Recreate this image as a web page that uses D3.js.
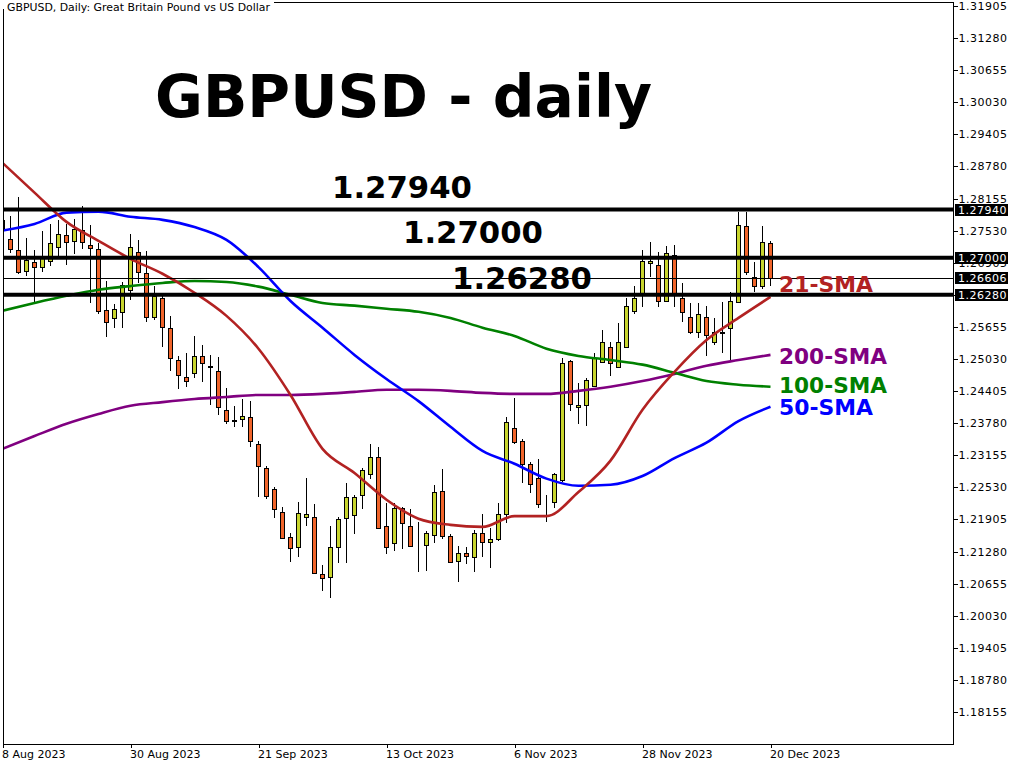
<!DOCTYPE html>
<html>
<head>
<meta charset="utf-8">
<script src="https://cdn.jsdelivr.net/npm/d3@7"></script>
<style>
  html, body { margin: 0; padding: 0; background: #ffffff; }
  svg { display: block; }
</style>
</head>
<body>
<svg id="chart" width="1024" height="768"></svg>
<script>
// ---------------- DATA ----------------
const tickLabelsX = ["8 Aug 2023", "30 Aug 2023", "21 Sep 2023", "13 Oct 2023", "6 Nov 2023", "28 Nov 2023", "20 Dec 2023"];
const tickBarsX = [0, 16, 32, 48, 64, 80, 96];

const tickLabelsY = ["1.31905","1.31280","1.30655","1.30030","1.29405","1.28780","1.28155","1.27530",
  "1.26905","1.26280","1.25655","1.25030","1.24405","1.23780","1.23155","1.22530","1.21905",
  "1.21280","1.20655","1.20030","1.19405","1.18780","1.18155"];

const open = [1.2774,1.2737,1.2716,1.2675,1.2692,1.2683,1.2694,1.2721,1.2745,1.2733,
  1.2755,1.2725,1.2718,1.2599,1.2583,1.2595,1.2638,1.2712,1.2671,1.2585,
  1.2622,1.2564,1.2501,1.2468,1.2476,1.2509,1.2489,1.2480,1.2404,1.2384,
  1.2386,1.2390,1.2338,1.2291,1.2250,1.2205,1.2157,1.2137,1.2196,1.2196,
  1.2084,1.2079,1.2137,1.2194,1.2199,1.2238,1.2279,1.2312,1.2178,1.2145,
  1.2213,1.2178,1.2141,1.2141,1.2160,1.2246,1.2158,1.2110,1.2125,1.2118,
  1.2164,1.2147,1.2153,1.2201,1.2369,1.2344,1.2299,1.2272,1.2223,1.2225,
  1.2268,1.2499,1.2410,1.2414,1.2451,1.2497,1.2527,1.2488,1.2527,1.2597,
  1.2632,1.2690,1.2686,1.2616,1.2706,1.2622,1.2585,1.2556,1.2585,1.2536,
  1.2554,1.2564,1.2614,1.2762,1.2663,1.2646,1.2729];
const high = [1.2784,1.2782,1.2819,1.2739,1.2716,1.2753,1.2766,1.2774,1.2766,1.2776,
  1.2801,1.2764,1.2729,1.2655,1.2610,1.2653,1.2747,1.2735,1.2714,1.2646,
  1.2626,1.2587,1.2509,1.2515,1.2548,1.2531,1.2511,1.2507,1.2447,1.2412,
  1.2425,1.2421,1.2344,1.2295,1.2254,1.2215,1.2164,1.2225,1.2271,1.2221,
  1.2102,1.2178,1.2196,1.2262,1.2238,1.2291,1.2338,1.2332,1.2223,1.2223,
  1.2215,1.2211,1.2186,1.2168,1.2258,1.2289,1.2162,1.2139,1.2137,1.2170,
  1.2201,1.2174,1.2223,1.2390,1.2427,1.2347,1.2303,1.2309,1.2238,1.2281,
  1.2505,1.2501,1.2457,1.2466,1.2515,1.2560,1.2536,1.2573,1.2622,1.2646,
  1.2716,1.2731,1.2712,1.2723,1.2725,1.2651,1.2612,1.2612,1.2606,1.2583,
  1.2614,1.2634,1.2790,1.2790,1.2692,1.2762,1.2733];
const low = [1.2745,1.2710,1.2669,1.2665,1.2614,1.2673,1.2684,1.2704,1.2686,1.2708,
  1.2718,1.2612,1.2591,1.2546,1.2564,1.2564,1.2618,1.2651,1.2575,1.2579,
  1.2527,1.2480,1.2445,1.2449,1.2466,1.2459,1.2414,1.2394,1.2377,1.2371,
  1.2371,1.2332,1.2234,1.2231,1.2194,1.2153,1.2108,1.2118,1.2178,1.2084,
  1.2051,1.2038,1.2106,1.2106,1.2162,1.2211,1.2270,1.2172,1.2123,1.2129,
  1.2133,1.2137,1.2088,1.2090,1.2145,1.2153,1.2106,1.2069,1.2104,1.2088,
  1.2118,1.2096,1.2149,1.2184,1.2338,1.2262,1.2242,1.2213,1.2186,1.2213,
  1.2264,1.2402,1.2377,1.2373,1.2449,1.2496,1.2470,1.2487,1.2525,1.2591,
  1.2605,1.2663,1.2605,1.2614,1.2605,1.2575,1.2552,1.2544,1.2509,1.2531,
  1.2515,1.2501,1.2612,1.2667,1.2634,1.2640,1.2646];
const close = [1.2755,1.2718,1.2673,1.2696,1.2683,1.2702,1.2729,1.2747,1.2731,1.2757,
  1.2731,1.2720,1.2597,1.2575,1.2601,1.2647,1.2721,1.2673,1.2585,1.2626,
  1.2566,1.2505,1.2472,1.2460,1.2509,1.2496,1.2488,1.2410,1.2382,1.2383,
  1.2392,1.2344,1.2295,1.2236,1.2211,1.2155,1.2135,1.2203,1.2201,1.2086,
  1.2077,1.2137,1.2192,1.2234,1.2234,1.2287,1.2312,1.2174,1.2137,1.2213,
  1.2184,1.2139,1.2140,1.2164,1.2244,1.2158,1.2108,1.2125,1.2119,1.2164,
  1.2147,1.2153,1.2201,1.2381,1.2342,1.2299,1.2260,1.2221,1.2222,1.2279,
  1.2496,1.2416,1.2414,1.2462,1.2505,1.2536,1.2496,1.2536,1.2606,1.2622,
  1.2694,1.2694,1.2616,1.2710,1.2632,1.2595,1.2556,1.2591,1.2550,1.2556,
  1.2556,1.2616,1.2764,1.2673,1.2645,1.2731,1.26606];

// moving averages, read every 4th bar
const smaBars = [0,4,8,12,16,20,24,28,32,36,40,44,48,52,56,60,64,68,72,76,80,84,88,92,96];
const sma21 = [1.2885,1.2827,1.2770,1.2733,1.2698,1.2669,1.2632,1.2587,1.2523,1.2433,1.2328,1.2281,1.2229,
  1.2192,1.2180,1.2176,1.2197,1.2197,1.2244,1.2305,1.2404,1.2478,1.2540,1.2583,1.2624];
const sma50 = [1.2753,1.2766,1.2788,1.2790,1.2780,1.2774,1.2760,1.2735,1.2682,1.2616,1.2564,1.2511,1.2464,
  1.2421,1.2371,1.2324,1.2299,1.2270,1.2256,1.2258,1.2275,1.2310,1.2340,1.2382,1.2410];
const sma100 = [1.2597,1.2612,1.2626,1.2638,1.2645,1.2651,1.2655,1.2653,1.2644,1.2628,1.2612,1.2607,1.2601,
  1.2595,1.2583,1.2564,1.2548,1.2523,1.2509,1.2501,1.2492,1.2476,1.2460,1.2453,1.2449];
const sma200 = [1.2328,1.2353,1.2377,1.2396,1.2412,1.2419,1.2425,1.2429,1.2433,1.2433,1.2435,1.2439,1.2443,
  1.2443,1.2441,1.2437,1.2435,1.2435,1.2441,1.2449,1.2460,1.2474,1.2490,1.2501,1.2511];

const levelLines = [1.27940, 1.27000, 1.26280];
const levelText = ["1.27940", "1.27000", "1.26280"];
const bidPrice = 1.26606;
const priceTags = [1.27940, 1.27000, 1.26606, 1.26280];

const smaNames = ["21-SMA", "200-SMA", "100-SMA", "50-SMA"];

// ---------------- LAYOUT ----------------
const W = 1024, H = 768;
const L = 3, T = 2, R = 953, B = 744;
const colBull = "#c8d52e", colBear = "#f0642a";
const colors = { s21: "#b22222", s50: "#0000ff", s100: "#008000", s200: "#800080" };

const svg = d3.select("#chart");
svg.append("rect").attr("width", W).attr("height", H).attr("fill", "#fff");

const x = d3.scaleLinear().domain([0, 96]).range([2.5, 770.5]);
const y = d3.scaleLinear().domain([1.18155, 1.31905]).range([712, 6]);

svg.append("defs").append("clipPath").attr("id", "plot")
  .append("rect").attr("x", L + 0.5).attr("y", T).attr("width", R - L).attr("height", B - T);

const plot = svg.append("g").attr("clip-path", "url(#plot)");

// candles
const idx = d3.range(open.length);
const cg = plot.append("g").attr("shape-rendering", "crispEdges");
cg.selectAll("line.wick").data(idx).join("line")
  .attr("x1", i => x(i)).attr("x2", i => x(i))
  .attr("y1", i => y(high[i])).attr("y2", i => y(low[i]))
  .attr("stroke", "#000").attr("stroke-width", 1);
cg.selectAll("rect.body").data(idx).join("rect")
  .attr("x", i => x(i) - 2)
  .attr("width", 4)
  .attr("y", i => Math.round(y(Math.max(open[i], close[i]))) + 0.5)
  .attr("height", i => Math.max(0, Math.round(y(Math.min(open[i], close[i]))) - Math.round(y(Math.max(open[i], close[i])))))
  .attr("fill", i => close[i] >= open[i] ? colBull : colBear)
  .attr("stroke", "#000").attr("stroke-width", 1);

// moving averages
const lineGen = vals => d3.line().x((d, j) => x(smaBars[j])).y(d => y(d)).curve(d3.curveMonotoneX)(vals);
[[sma200, colors.s200], [sma100, colors.s100], [sma50, colors.s50], [sma21, colors.s21]].forEach(([vals, c]) => {
  plot.append("path").attr("d", lineGen(vals)).attr("fill", "none")
    .attr("stroke", c).attr("stroke-width", 2.6).attr("stroke-linejoin", "round");
});

// horizontal level lines
plot.selectAll("line.level").data(levelLines).join("line")
  .attr("x1", L).attr("x2", R)
  .attr("y1", d => y(d)).attr("y2", d => y(d))
  .attr("stroke", "#000").attr("stroke-width", 4);
plot.append("line").attr("x1", L).attr("x2", R)
  .attr("y1", Math.round(y(bidPrice)) + 0.5).attr("y2", Math.round(y(bidPrice)) + 0.5)
  .attr("stroke", "#000").attr("stroke-width", 1).attr("shape-rendering", "crispEdges");

// frame
svg.append("rect").attr("x", L + 0.5).attr("y", T + 0.5).attr("width", R - L).attr("height", B - T)
  .attr("fill", "none").attr("stroke", "#000").attr("stroke-width", 1).attr("shape-rendering", "crispEdges");

// header text
svg.append("rect").attr("x", 0).attr("y", 0).attr("width", 274).attr("height", 9).attr("fill", "#fff");
svg.append("text").attr("x", 7).attr("y", 11)
  .attr("font-family", "DejaVu Sans, sans-serif").attr("font-size", 10.5)
  .attr("textLength", 263).attr("lengthAdjust", "spacingAndGlyphs")
  .text("GBPUSD, Daily:  Great Britain Pound vs US Dollar");

// y axis
const yAxis = d3.axisRight(y)
  .tickValues(tickLabelsY.map(Number))
  .tickFormat((d, i) => tickLabelsY[i])
  .tickSize(4).tickPadding(1);
const ga = svg.append("g").attr("transform", `translate(${R + 0.5},0)`).call(yAxis);
ga.select(".domain").remove();
ga.selectAll(".tick line").attr("stroke", "#000").attr("shape-rendering", "crispEdges");
ga.selectAll(".tick text").attr("font-family", "DejaVu Sans, sans-serif").attr("font-size", 11)
  .attr("letter-spacing", "0.5px").attr("fill", "#000");

// price tags
const tags = svg.append("g");
priceTags.forEach(p => {
  const yy = y(p);
  tags.append("rect").attr("x", 955).attr("y", Math.round(yy) - 6).attr("width", 53).attr("height", 12).attr("fill", "#000");
  tags.append("text").attr("x", 958).attr("y", yy).attr("dy", "0.36em")
    .attr("font-family", "DejaVu Sans, sans-serif").attr("font-size", 11).attr("letter-spacing", "0.5px")
    .attr("fill", "#fff").text(d3.format(".5f")(p));
});

// x axis
const xAxis = d3.axisBottom(x)
  .tickValues(tickBarsX)
  .tickFormat((d, i) => tickLabelsX[i])
  .tickSize(4).tickPadding(2);
const gx = svg.append("g").attr("transform", `translate(0,${B})`).call(xAxis);
gx.select(".domain").remove();
gx.selectAll(".tick line").attr("stroke", "#000").attr("shape-rendering", "crispEdges");
gx.selectAll(".tick text").attr("font-family", "DejaVu Sans, sans-serif").attr("font-size", 11)
  .attr("text-anchor", "start").attr("dx", "-1").attr("fill", "#000");

// big title
svg.append("text").attr("x", 155).attr("y", 117)
  .attr("font-family", "DejaVu Sans, sans-serif").attr("font-weight", "bold").attr("font-size", 58)
  .attr("textLength", 497).attr("lengthAdjust", "spacingAndGlyphs")
  .text("GBPUSD - daily");

// level labels
const lvlPos = [[332, 198], [403, 243], [452, 289]];
levelText.forEach((t, i) => {
  svg.append("text").attr("x", lvlPos[i][0]).attr("y", lvlPos[i][1])
    .attr("font-family", "DejaVu Sans, sans-serif").attr("font-weight", "bold").attr("font-size", 31)
    .attr("textLength", 140).attr("lengthAdjust", "spacingAndGlyphs").text(t);
});

// SMA labels
const smaLab = [[292, colors.s21, 94], [364, colors.s200, 108], [393, colors.s100, 108], [415, colors.s50, 94]];
smaNames.forEach((t, i) => {
  svg.append("text").attr("x", 779).attr("y", smaLab[i][0])
    .attr("font-family", "DejaVu Sans, sans-serif").attr("font-weight", "bold").attr("font-size", 20.5)
    .attr("fill", smaLab[i][1])
    .attr("textLength", smaLab[i][2]).attr("lengthAdjust", "spacingAndGlyphs").text(t);
});
</script>
</body>
</html>
